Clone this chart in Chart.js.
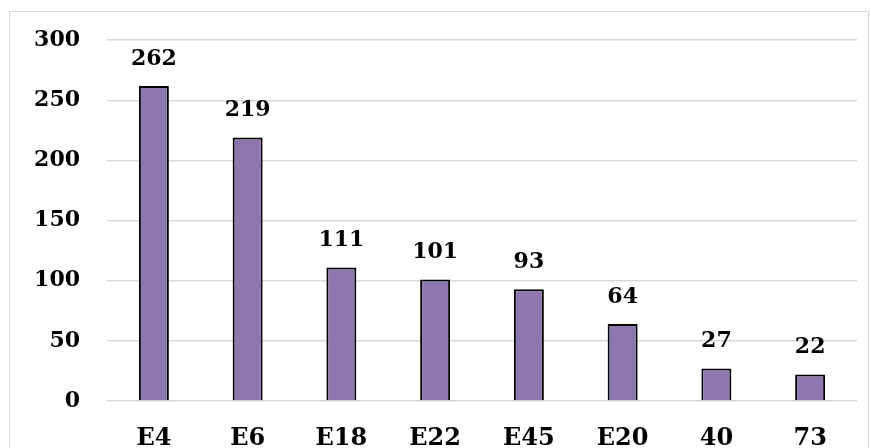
<!DOCTYPE html>
<html>
<head>
<meta charset="utf-8">
<script src="https://cdn.jsdelivr.net/npm/chart.js@4"></script>
<style>
    html, body { margin: 0; padding: 0; background: #fff; overflow: hidden; }
    #wrap { position: relative; width: 871px; height: 448px; }
    #frame {
        position: absolute; left: 9px; top: 11px; width: 860px; height: 460px;
        border: 1px solid #d9d9d9; box-sizing: border-box;
    }
    canvas { position: absolute; left: 0; top: 0; }
</style>
</head>
<body>
<div id="wrap">
    <div id="frame"></div>
    <canvas id="barChart" width="871" height="448"></canvas>
</div>
<script>
// Conteos por categoría
const categories = ['E4', 'E6', 'E18', 'E22', 'E45', 'E20', '40', '73'];
const counts = [262, 219, 111, 101, 93, 64, 27, 22];
const yTicks = [0, 50, 100, 150, 200, 250, 300];

const fontFamily = "'DejaVu Serif', 'Liberation Serif', serif";

// Etiquetas de valor encima de cada barra
const valueLabels = {
    id: 'valueLabels',
    afterDatasetsDraw(chart) {
        const ctx = chart.ctx;
        const meta = chart.getDatasetMeta(0);
        ctx.save();
        ctx.font = 'bold 22px ' + fontFamily;
        ctx.fillStyle = '#000';
        ctx.textAlign = 'center';
        ctx.textBaseline = 'bottom';
        meta.data.forEach((bar, i) => {
            ctx.fillText(String(counts[i]), bar.x, bar.y - 16);
        });
        ctx.restore();
    }
};

const ctx = document.getElementById('barChart').getContext('2d');
new Chart(ctx, {
    type: 'bar',
    data: {
        labels: categories,
        datasets: [{
            data: counts,
            backgroundColor: '#8e76ae',
            borderColor: '#000',
            borderWidth: 2,
            categoryPercentage: 1,
            barPercentage: 0.32
        }]
    },
    options: {
        responsive: false,
        animation: false,
        layout: { padding: { top: 35, right: 14, left: 0, bottom: 0 } },
        plugins: {
            legend: { display: false },
            tooltip: { enabled: false }
        },
        scales: {
            x: {
                grid: { display: false },
                border: { display: false },
                ticks: {
                    color: '#000',
                    padding: 15,
                    font: { family: fontFamily, size: 24, weight: 'bold' }
                },
                afterFit(scale) { scale.height = 47; }
            },
            y: {
                min: 0,
                max: 300,
                afterBuildTicks(scale) {
                    scale.ticks = yTicks.map(v => ({ value: v }));
                },
                grid: { color: '#d9d9d9', lineWidth: 1.5, drawTicks: false },
                border: { display: false },
                ticks: {
                    color: '#000',
                    padding: 27,
                    font: { family: fontFamily, size: 22, weight: 'bold' }
                },
                afterFit(scale) { scale.width = 107; }
            }
        }
    },
    plugins: [valueLabels]
});
</script>
</body>
</html>
